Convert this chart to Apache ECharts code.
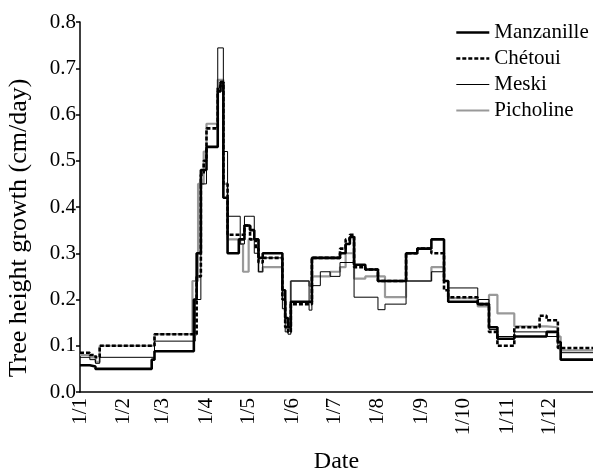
<!DOCTYPE html>
<html>
<head>
<meta charset="utf-8">
<script src="https://cdn.jsdelivr.net/npm/echarts@6/dist/echarts.min.js"></script>
<style>
  html, body { margin: 0; padding: 0; background: #fff; }
  #chart { width: 593px; height: 471px; }
</style>
</head>
<body>
<div id="chart"></div>
<script>
// Day of year (0 = 1 January) at which each month begins, and its label (day/month)
const monthStarts = [0, 31, 59, 90, 120, 151, 181, 212, 243, 273, 304, 334];
const monthLabels = ['1/1', '1/2', '1/3', '1/4', '1/5', '1/6', '1/7', '1/8', '1/9', '1/10', '1/11', '1/12'];
const yearEnd = 365;

// Growth rate (cm/day); each value holds from its day until the next entry
const manzanille = [
  [0, 0.058], [7, 0.055], [11, 0.05], [51, 0.07], [53, 0.088], [81, 0.2], [83, 0.3],
  [86, 0.48], [90, 0.53], [98, 0.65], [100, 0.67], [102, 0.42], [105, 0.30], [113, 0.33],
  [117, 0.36], [121, 0.35], [124, 0.33], [127, 0.29], [130, 0.30], [144, 0.22], [146, 0.16],
  [148, 0.14], [150, 0.195], [165, 0.29], [185, 0.30], [189, 0.32], [192, 0.335], [195, 0.275],
  [203, 0.265], [212, 0.24], [232, 0.30], [240, 0.31], [250, 0.33], [259, 0.24], [262, 0.195],
  [283, 0.19], [291, 0.14], [297, 0.115], [309, 0.12], [332, 0.13], [340, 0.108], [342, 0.07],
  [365, 0.07]
];
const chetoui = [
  [0, 0.085], [7, 0.08], [11, 0.075], [14, 0.1], [53, 0.125], [83, 0.25], [86, 0.47],
  [88, 0.5], [90, 0.57], [98, 0.66], [100, 0.67], [102, 0.45], [105, 0.34], [114, 0.34],
  [117, 0.36], [121, 0.33], [125, 0.31], [127, 0.28], [130, 0.29], [144, 0.2], [146, 0.14],
  [148, 0.13], [150, 0.19], [165, 0.29], [185, 0.31], [189, 0.33], [192, 0.34], [195, 0.27],
  [203, 0.265], [212, 0.24], [232, 0.30], [240, 0.31], [250, 0.30], [259, 0.22], [262, 0.205],
  [283, 0.19], [291, 0.13], [297, 0.10], [309, 0.14], [327, 0.165], [332, 0.155], [340, 0.095],
  [365, 0.095]
];
const meski = [
  [0, 0.075], [7, 0.07], [11, 0.062], [14, 0.075], [53, 0.11], [82, 0.2], [86, 0.45],
  [90, 0.53], [98, 0.744], [102, 0.52], [105, 0.38], [114, 0.32], [117, 0.38], [121, 0.38],
  [124, 0.30], [127, 0.26], [130, 0.29], [144, 0.18], [146, 0.13], [148, 0.125], [150, 0.24],
  [163, 0.177], [165, 0.23], [171, 0.26], [178, 0.25], [185, 0.28], [195, 0.205], [212, 0.178],
  [217, 0.19], [232, 0.24], [250, 0.26], [259, 0.24], [262, 0.225], [283, 0.20], [291, 0.135],
  [297, 0.12], [309, 0.13], [332, 0.12], [340, 0.10], [342, 0.085], [365, 0.085]
];
const picholine = [
  [0, 0.08], [7, 0.075], [11, 0.065], [14, 0.1], [53, 0.125], [80, 0.24], [84, 0.45],
  [88, 0.52], [90, 0.58], [98, 0.675], [102, 0.45], [105, 0.33], [114, 0.32], [116, 0.26],
  [118, 0.26], [120, 0.33], [123, 0.33], [127, 0.26], [130, 0.27], [144, 0.2], [146, 0.15],
  [148, 0.14], [150, 0.24], [163, 0.23], [165, 0.25], [178, 0.26], [185, 0.27], [189, 0.30],
  [195, 0.245], [203, 0.25], [217, 0.205], [232, 0.24], [250, 0.27], [259, 0.24], [262, 0.203],
  [283, 0.185], [291, 0.21], [297, 0.17], [309, 0.142], [332, 0.14], [340, 0.12], [342, 0.09],
  [365, 0.09]
];

const seriesNames = ['Manzanille', 'Chétoui', 'Meski', 'Picholine'];
const seriesData = [manzanille, chetoui, meski, picholine];
const lineStyles = [
  { color: '#000', width: 2.6, type: 'solid' },
  { color: '#000', width: 2.6, type: [4, 2] },
  { color: '#000', width: 1, type: 'solid' },
  { color: '#999', width: 2.2, type: 'solid' }
];

const font = "'Liberation Serif', 'Times New Roman', serif";
const chart = echarts.init(document.getElementById('chart'));

chart.setOption({
  backgroundColor: '#fff',
  animation: false,
  textStyle: { fontFamily: font, color: '#000' },
  grid: { left: 80, right: 0, top: 22, bottom: 79, outerBoundsMode: 'none', containLabel: false },
  legend: {
    orient: 'vertical',
    left: 450,
    top: 17,
    itemWidth: 33,
    itemHeight: 14,
    itemGap: 5,
    data: seriesNames.map((name, i) => ({ name, lineStyle: Object.assign({}, lineStyles[i]) })),
    itemStyle: { opacity: 0, borderWidth: 0 },
    textStyle: { fontFamily: font, fontSize: 21, color: '#000' }
  },
  xAxis: {
    type: 'value',
    min: 0,
    max: yearEnd,
    name: 'Date',
    nameLocation: 'middle',
    nameGap: 58,
    nameTextStyle: { fontFamily: font, fontSize: 24, color: '#000' },
    splitLine: { show: false },
    axisLine: { lineStyle: { color: '#000', width: 1.5 } },
    axisTick: { show: false },
    axisLabel: {
      customValues: monthStarts,
      rotate: 90,
      margin: 6,
      fontFamily: font,
      fontSize: 21,
      color: '#000',
      formatter: v => monthLabels[monthStarts.indexOf(v)]
    }
  },
  yAxis: {
    type: 'value',
    min: 0,
    max: 0.8,
    interval: 0.1,
    name: 'Tree height growth (cm/day)',
    nameLocation: 'middle',
    nameGap: 48,
    nameTextStyle: { fontFamily: font, fontSize: 26, color: '#000', padding: [0, 42, 0, 0] },
    splitLine: { show: false },
    axisLine: { show: true, lineStyle: { color: '#000', width: 1.5 } },
    axisTick: { show: true, inside: false, length: 4, lineStyle: { color: '#000', width: 1.5 } },
    axisLabel: {
      margin: 4,
      fontFamily: font,
      fontSize: 21,
      color: '#000',
      formatter: v => v.toFixed(1)
    }
  },
  series: seriesNames.map((name, i) => ({
    name,
    type: 'line',
    step: 'end',
    showSymbol: false,
    symbol: 'none',
    data: seriesData[i],
    lineStyle: lineStyles[i],
    itemStyle: { color: lineStyles[i].color },
    z: i === 3 ? 1 : 2
  }))
});
</script>
</body>
</html>
